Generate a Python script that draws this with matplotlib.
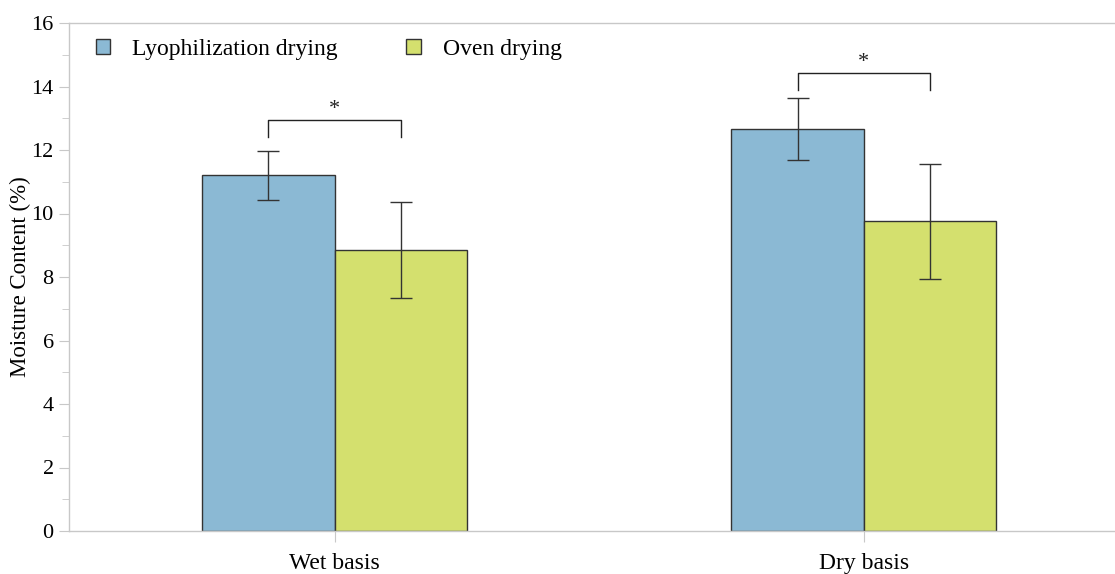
import matplotlib
matplotlib.use("Agg")
import matplotlib.pyplot as plt
import numpy as np

categories = ["Wet basis", "Dry basis"]
series_names = ["Lyophilization drying", "Oven drying"]
lyo_vals = [11.21, 12.65]
lyo_err = [0.77, 0.98]
oven_vals = [8.85, 9.75]
oven_err = [1.51, 1.82]
sig_labels = ["*", "*"]
bracket_y = [12.94, 14.43]
y_ticks = [0, 2, 4, 6, 8, 10, 12, 14, 16]

plt.rcParams['font.family'] = ['Liberation Serif', 'DejaVu Serif']

fig = plt.figure(figsize=(11.15, 5.74), dpi=100)
ax = fig.add_axes([69/1115, 1-531/574, 1-69/1115, (531-23)/574])

x = np.arange(len(categories))
w = 0.25
c_lyo = "#8BB9D4"
c_oven = "#D4E06E"
edge = "#333333"

ax.bar(x - w/2, lyo_vals, w, color=c_lyo, edgecolor=edge, linewidth=1.0,
       label=series_names[0], zorder=2)
ax.bar(x + w/2, oven_vals, w, color=c_oven, edgecolor=edge, linewidth=1.0,
       label=series_names[1], zorder=2)
ax.errorbar(x - w/2, lyo_vals, yerr=lyo_err, fmt='none', ecolor="#333333",
            elinewidth=1.0, capsize=7.8, capthick=1.0, zorder=3)
ax.errorbar(x + w/2, oven_vals, yerr=oven_err, fmt='none', ecolor="#333333",
            elinewidth=1.0, capsize=7.8, capthick=1.0, zorder=3)

# significance brackets
for i in range(len(categories)):
    ybr = bracket_y[i]
    leg = ybr - 0.54
    ax.plot([x[i] - w/2, x[i] - w/2, x[i] + w/2, x[i] + w/2],
            [leg, ybr, ybr, leg], color="#222222", lw=1.0, zorder=3)
    ax.text(x[i], ybr + 0.18, sig_labels[i], ha='center', va='baseline',
            fontsize=16, color="#222222")

ax.set_xlim(-0.502, 1.475)
ax.set_ylim(0, 16)
ax.set_yticks(y_ticks)
ax.set_yticks(np.arange(1, 16, 2), minor=True)
ax.set_xticks(x)
ax.set_xticklabels(categories)
ax.set_ylabel("Moisture Content (%)", fontsize=16.5, labelpad=0.5)

spine_c = "#C8C8C8"
ax.spines["right"].set_visible(False)
for s in ["top", "left", "bottom"]:
    ax.spines[s].set_color(spine_c)
    ax.spines[s].set_linewidth(1.0)
ax.tick_params(axis='y', which='major', length=7, color=spine_c, labelsize=16, pad=4)
ax.tick_params(axis='y', which='minor', length=5, color=spine_c)
ax.tick_params(axis='x', which='major', length=8, color=spine_c, labelsize=17, pad=8)

ax.legend(loc='upper left', ncol=2, frameon=False, fontsize=17,
          handlelength=0.6, handleheight=0.6, columnspacing=2.9,
          handletextpad=0.93, borderpad=0, borderaxespad=0,
          bbox_to_anchor=(0.026, 0.969))

fig.savefig("out.png", dpi=100)
